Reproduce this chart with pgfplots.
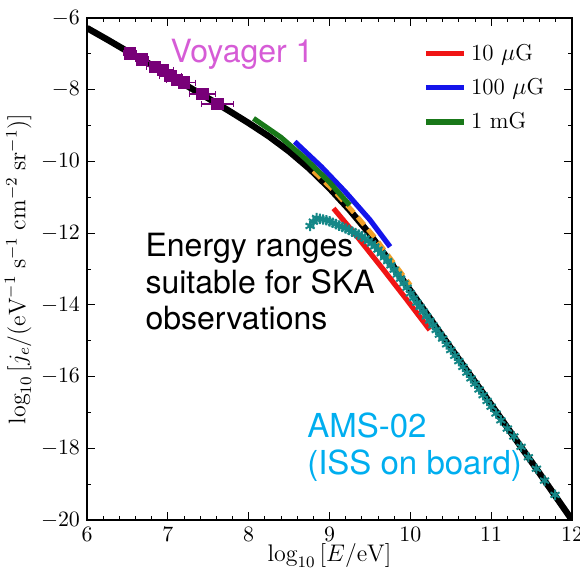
\documentclass[border=0pt]{standalone}
\usepackage{fontspec}
\usepackage{pgfplots}
\pgfplotsset{compat=1.18}
\usetikzlibrary{calc}
\newfontfamily\helv{TeX Gyre Heros}
\definecolor{voyc}{RGB}{214,92,214}
\definecolor{amsc}{RGB}{0,174,239}
\definecolor{tealc}{RGB}{20,135,135}
\definecolor{myred}{RGB}{240,20,20}
\definecolor{myblue}{RGB}{20,20,235}
\definecolor{mygreen}{RGB}{25,120,25}
\definecolor{myorange}{RGB}{240,160,40}
\definecolor{mypurple}{RGB}{120,0,120}

\pgfplotstableread{
x y
6.0 -6.28
6.25 -6.60
6.5 -6.93
6.75 -7.25
7.0 -7.58
7.25 -7.91
7.5 -8.24
7.75 -8.58
8.0 -8.93
8.25 -9.30
8.5 -9.72
8.75 -10.20
9.0 -10.75
9.25 -11.36
9.5 -12.03
9.75 -12.80
10.0 -13.60
10.25 -14.40
10.5 -15.20
10.75 -15.99
11.0 -16.78
11.25 -17.58
11.5 -18.38
11.75 -19.19
12.0 -20.0
12.1 -20.33
}\blackcurve

\pgfplotstableread{
x y ex
6.53 -6.98 0.08
6.68 -7.15 0.08
6.84 -7.36 0.10
6.94 -7.45 0.13
7.03 -7.62 0.14
7.11 -7.73 0.13
7.20 -7.80 0.14
7.43 -8.12 0.16
7.61 -8.40 0.20
}\voyager

\pgfplotstableread{
x y
8.76 -11.80
8.80 -11.68
8.84 -11.58
8.88 -11.60
8.92 -11.62
8.96 -11.64
9.00 -11.67
9.04 -11.71
9.08 -11.75
9.12 -11.79
9.16 -11.83
9.20 -11.87
9.24 -11.91
9.28 -11.96
9.32 -12.00
9.36 -12.04
9.40 -12.09
9.44 -12.15
9.48 -12.22
9.52 -12.29
9.56 -12.37
9.60 -12.46
9.64 -12.56
9.68 -12.67
9.72 -12.78
9.76 -12.90
9.80 -13.02
9.84 -13.15
9.88 -13.27
9.92 -13.40
9.96 -13.52
10.00 -13.68
10.04 -13.81
10.08 -13.94
10.12 -14.06
10.16 -14.19
10.20 -14.32
10.24 -14.44
10.28 -14.57
10.32 -14.70
10.36 -14.83
10.40 -14.94
10.45 -15.10
10.50 -15.26
10.55 -15.42
10.60 -15.57
10.65 -15.73
10.70 -15.89
10.75 -16.05
10.80 -16.20
10.85 -16.36
10.90 -16.52
10.95 -16.68
11.00 -16.84
11.06 -17.03
11.12 -17.22
11.20 -17.45
11.28 -17.67
11.37 -17.96
11.46 -18.25
11.56 -18.57
11.66 -18.90
11.79 -19.30
}\ams

\begin{document}
\begin{tikzpicture}
\begin{axis}[
  name=ax,
  scale only axis,
  width=242.5pt, height=251pt,
  xmin=6, xmax=12, ymin=-20, ymax=-6,
  xtick={6,7,...,12}, ytick={-20,-18,...,-6},
  minor x tick num=4, minor y tick num=1,
  tick align=inside,
  major tick length=4pt, minor tick length=2.2pt,
  every tick/.style={black, line width=0.5pt},
  axis line style={line width=0.6pt},
  tick label style={font=\fontsize{11}{13}\selectfont},
  xlabel={$\log_{10}\,[E/\mathrm{eV}]$},
  ylabel={$\log_{10}\,[j_e/(\mathrm{eV}^{-1}\;\mathrm{s}^{-1}\;\mathrm{cm}^{-2}\;\mathrm{sr}^{-1})]$},
  label style={font=\fontsize{12}{14}\selectfont},
  xlabel style={yshift=5.5pt},
  ylabel style={yshift=-2pt},
  legend style={draw=none, fill=none, at={(rel axis cs:0.96,0.965)}, anchor=north east,
     font=\fontsize{11.5}{13}\selectfont, row sep=3.5pt, inner sep=2pt},
  legend cell align=left,
  legend image code/.code={\draw[#1] (0pt,0pt) -- (19pt,0pt);},
]
\addplot[black, line width=3.2pt, forget plot] table[x=x,y=y]{\blackcurve};
\addplot[only marks, mark=square*, mark size=2.9pt, color=mypurple, forget plot,
  error bars/.cd, x dir=both, x explicit, error bar style={mypurple, line width=0.6pt}, error mark options={rotate=90, mark size=1.5pt, mypurple}]
  table[x=x,y=y,x error=ex]{\voyager};
\addplot[myorange, line width=2.4pt, dash pattern=on 5pt off 3pt, forget plot] coordinates {
(8.80,-10.27) (9.06,-10.83) (9.31,-11.45) (9.56,-12.12) (9.81,-12.88) (10.0,-13.45)};
\addplot[myred, line width=2.6pt] coordinates {
(9.05,-11.31) (9.35,-12.12) (9.65,-12.97) (9.95,-13.84) (10.24,-14.70)};
\addlegendentry{10 $\mu$G}
\addplot[myblue, line width=2.6pt] coordinates {
(8.57,-9.45) (8.9,-10.15) (9.2,-10.86) (9.5,-11.63) (9.75,-12.38)};
\addlegendentry{100 $\mu$G}
\addplot[mygreen, line width=2.6pt] coordinates {
(8.06,-8.80) (8.4,-9.33) (8.7,-9.92) (9.0,-10.58) (9.25,-11.22)};
\addlegendentry{1 mG}
\addplot[only marks, mark=asterisk, mark size=2.6pt, color=tealc, mark options={line width=1pt}, forget plot]
  table[x=x,y=y]{\ams};
\node[anchor=base west, text=voyc, font=\helv\fontsize{16}{18}\selectfont, inner sep=0pt] at (axis cs:7.03,-7.25) {Voyager 1};
\node[anchor=base west, align=left, text=black, font=\helv\fontsize{16}{18.3}\selectfont, inner sep=0pt] at (axis cs:6.72,-14.70) {Energy ranges\\suitable for SKA\\observations};
\node[anchor=base west, align=left, text=amsc, font=\helv\fontsize{16.5}{18.5}\selectfont, inner sep=0pt] at (axis cs:8.72,-18.74) {AMS-02\\(ISS on board)};
\end{axis}
\pgfresetboundingbox
\useasboundingbox ($(ax.south west)+(-43.5pt,-26pt)$) rectangle ($(ax.north east)+(4pt,9pt)$);
\end{tikzpicture}
\end{document}
